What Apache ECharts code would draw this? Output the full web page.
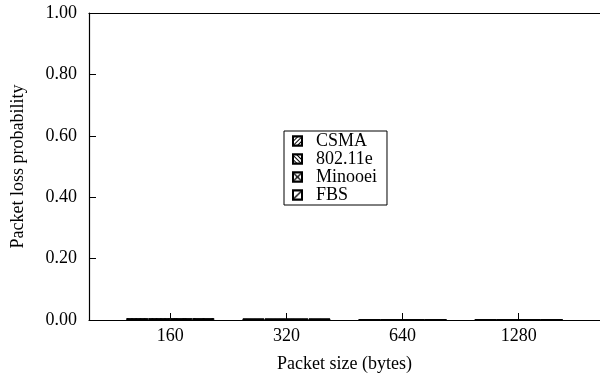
<!DOCTYPE html>
<html>
<head>
<meta charset="utf-8">
<script src="https://cdn.jsdelivr.net/npm/echarts@6/dist/echarts.min.js"></script>
<style>
  html, body { margin: 0; padding: 0; background: #fff; }
  #chart { width: 600px; height: 380px; }
</style>
</head>
<body>
<div id="chart"></div>
<script>
// Packet sizes (bytes) shown along the x axis
const packetSizes = ['160', '320', '640', '1280'];
// Packet loss probability per scheme
const csma       = [0.006, 0.005, 0.001, 0.001];
const ieee80211e = [0.006, 0.005, 0.001, 0.001];
const minooei    = [0.006, 0.005, 0.001, 0.001];
const fbs        = [0.006, 0.005, 0.001, 0.001];
const yTicks = [0, 0.2, 0.4, 0.6, 0.8, 1.0];

const FONT = '"Liberation Serif", "DejaVu Serif", serif';
const positions = packetSizes.map((_, i) => i);

// Line hatching fill
function hatch(rotation, gap) {
  return {
    symbol: 'rect',
    symbolSize: 1,
    color: '#000',
    backgroundColor: '#fff',
    dashArrayX: [1, 0],
    dashArrayY: [1, gap],
    rotation: rotation
  };
}
// Fill built from a tiled path shape (cross or single diagonal)
function tile(path, size) {
  return {
    symbol: path,
    symbolSize: 1,
    symbolKeepAspect: false,
    color: '#000',
    backgroundColor: '#fff',
    dashArrayX: [size, 0],
    dashArrayY: [size, 0],
    rotation: 0
  };
}
const CROSS = 'path://M0,0L1,0L10,9L10,10L9,10L0,1ZM9,0L10,0L10,1L1,10L0,10L0,9Z';
const SLASH = 'path://M9,0L10,0L10,1L1,10L0,10L0,9Z';

const schemes = [
  { name: 'CSMA', data: csma, decal: hatch(-Math.PI / 4, 2) },
  { name: '802.11e', data: ieee80211e, decal: hatch(Math.PI / 4, 1.5) },
  { name: 'Minooei', data: minooei, decal: tile(CROSS, 9) },
  { name: 'FBS', data: fbs, decal: tile(SLASH, 9) }
];

const chart = echarts.init(document.getElementById('chart'), null, { renderer: 'canvas' });

chart.setOption({
  backgroundColor: '#fff',
  animation: false,
  aria: { enabled: false },
  grid: { left: 89, right: 0, top: 13, bottom: 60, outerBoundsMode: 'none', containLabel: false },
  legend: {
    orient: 'vertical',
    left: 284,
    top: 131,
    itemWidth: 9,
    itemHeight: 9,
    itemGap: 0,
    padding: [1, 10, 1, 8],
    borderColor: '#000',
    borderWidth: 1,
    backgroundColor: '#fff',
    borderRadius: 0,
    icon: 'rect',
    textStyle: { fontFamily: FONT, fontSize: 18, color: '#000', padding: [0, 0, 0, 9], lineHeight: 18 },
    data: schemes.map(s => s.name)
  },
  xAxis: [{
    type: 'value',
    min: -0.7,
    max: 3.7,
    name: 'Packet size (bytes)',
    nameLocation: 'middle',
    nameGap: 35,
    nameTextStyle: { fontFamily: FONT, fontSize: 18, color: '#000' },
    axisLine: { show: true, onZero: false, lineStyle: { color: '#000', width: 1.2 } },
    axisTick: { show: true, inside: true, length: 7, customValues: positions, lineStyle: { color: '#000' } },
    axisLabel: {
      customValues: positions,
      formatter: v => packetSizes[Math.round(v)],
      fontFamily: FONT, fontSize: 18, color: '#000', margin: 7
    },
    splitLine: { show: false }
  }, {
    type: 'value',
    position: 'top',
    min: -0.7,
    max: 3.7,
    axisLine: { show: true, onZero: false, lineStyle: { color: '#000', width: 1.2 } },
    axisTick: { show: false },
    axisLabel: { show: false },
    splitLine: { show: false }
  }],
  yAxis: {
    type: 'value',
    min: 0,
    max: 1,
    interval: 0.2,
    name: 'Packet loss probability',
    nameLocation: 'middle',
    nameGap: 62,
    nameTextStyle: { fontFamily: FONT, fontSize: 18, color: '#000' },
    axisLine: { show: true, onZero: false, lineStyle: { color: '#000', width: 1.2 } },
    axisTick: { show: true, inside: true, length: 7, lineStyle: { color: '#000' } },
    axisLabel: {
      formatter: v => yTicks.includes(+v.toFixed(2)) ? v.toFixed(2) : '',
      fontFamily: FONT, fontSize: 18, color: '#000', margin: 12
    },
    splitLine: { show: false }
  },
  series: schemes.map(s => ({
    name: s.name,
    type: 'bar',
    xAxisIndex: 0,
    barWidth: 22,
    barGap: '0%',
    data: s.data.map((v, i) => [positions[i], v]),
    itemStyle: { color: '#fff', borderColor: '#000', borderWidth: 1, decal: s.decal }
  }))
});
</script>
</body>
</html>
